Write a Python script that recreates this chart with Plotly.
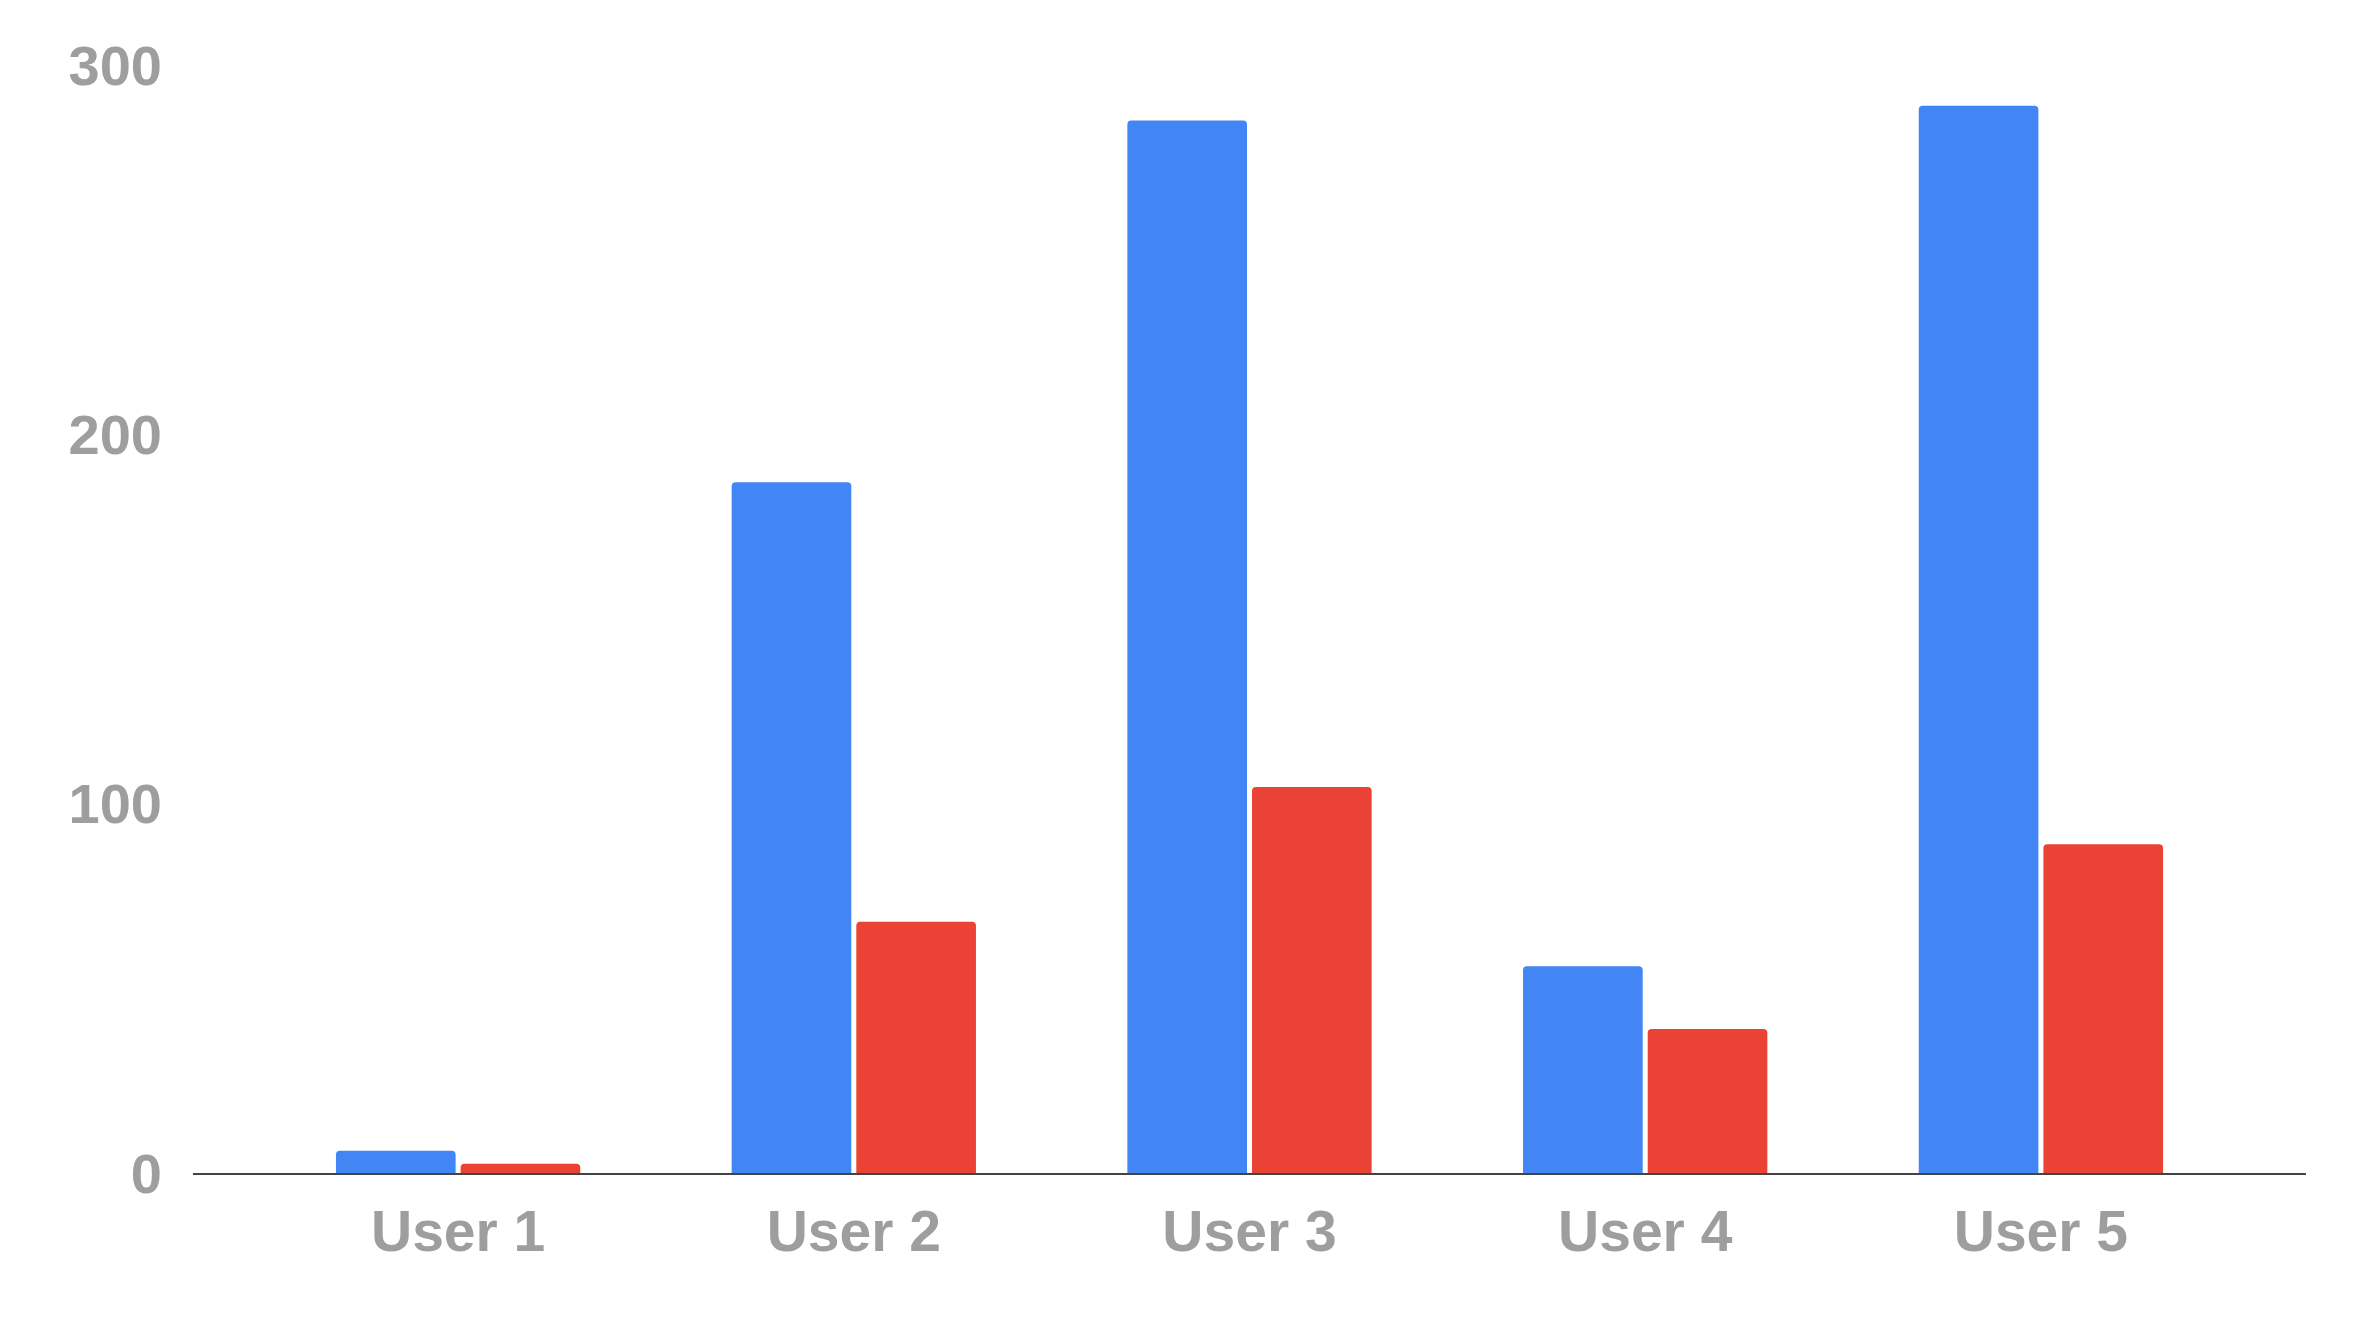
import plotly.graph_objects as go

users = ["User 1", "User 2", "User 3", "User 4", "User 5"]
series_a = [6, 187, 285, 56, 289]
series_b = [2.5, 68, 104.5, 39, 89]
y_ticks = [0, 100, 200, 300]

fig = go.Figure()
fig.add_trace(go.Bar(x=users, y=series_a, marker_color="#4285F4", marker_line_width=0))
fig.add_trace(go.Bar(x=users, y=series_b, marker_color="#EA4335", marker_line_width=0))

fig.update_layout(
    width=2376, height=1328,
    margin=dict(l=185, r=78, t=57, b=163),
    paper_bgcolor="white", plot_bgcolor="white",
    showlegend=False,
    barmode="group", bargap=0.37, bargroupgap=0.04, barcornerradius=4,
    font=dict(family="Liberation Sans, Arial", size=56, color="#9e9e9e"),
)
fig.update_xaxes(range=[-0.67, 4.67], showgrid=False, showline=True, linecolor="#444444", linewidth=2,
                 ticks="", ticklabelstandoff=8,
                 tickfont=dict(family="Liberation Sans, Arial", size=57, color="#9e9e9e", weight="bold"))
fig.update_yaxes(range=[0, 300], tickvals=y_ticks, showgrid=False, zeroline=False,
                 ticks="", ticklabelstandoff=30,
                 tickfont=dict(family="Liberation Sans, Arial", size=56, color="#9e9e9e", weight="bold"))

fig.write_html("out.html")
